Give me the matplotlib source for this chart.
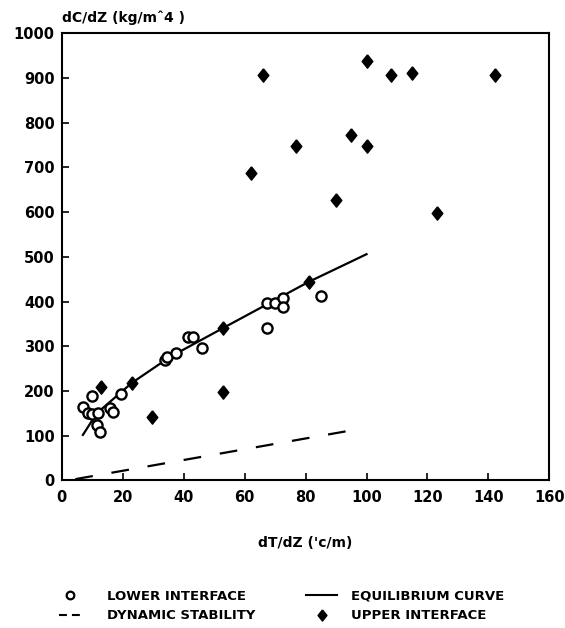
import matplotlib
matplotlib.use("Agg")
import matplotlib.pyplot as plt
from matplotlib.lines import Line2D

# Lower interface (open circles)
lower_x = [7, 10, 8.5, 10, 12, 11.5, 12.5, 16, 17, 19.5, 34, 34.5, 37.5,
           41.5, 43, 46, 67.5, 67.5, 70, 72.5, 72.5, 85]
lower_y = [165, 188, 152, 148, 150, 125, 109, 163, 153, 194, 270, 276, 285,
           321, 321, 296, 397, 342, 397, 408, 387, 412]

# Upper interface (filled diamonds)
upper_x = [66, 100, 108, 115, 142, 95, 77, 100, 62, 90, 123,
           13, 23, 29.5, 53, 53, 81]
upper_y = [907, 937, 907, 912, 907, 773, 748, 748, 688, 628, 599,
           209, 218, 142, 341, 197, 444]

# Equilibrium curve
eq_x = [7, 11.5, 23, 35.5, 53, 81, 100]
eq_y = [102, 150, 218, 276, 341, 444, 506]

# Dynamic stability
dyn_x = [4.5, 95]
dyn_y = [3, 112]

xticks = [0, 20, 40, 60, 80, 100, 120, 140, 160]
yticks = [0, 100, 200, 300, 400, 500, 600, 700, 800, 900, 1000]

plt.rcParams['font.family'] = ['DejaVu Sans']
plt.rcParams['font.weight'] = 'bold'

diamond = [(0, 1), (0.8, 0), (0, -1), (-0.8, 0), (0, 1)]

fig = plt.figure(figsize=(5.65, 6.28), dpi=100)
ax = fig.add_axes([0.109, 0.2349, 0.8635, 0.7121])

ax.plot(eq_x, eq_y, color='black', lw=1.6, zorder=2)
ax.plot(dyn_x, dyn_y, color='black', lw=1.6, linestyle=(0, (8, 8.5)), zorder=2)
ax.plot(lower_x, lower_y, linestyle='none', marker='o', ms=7.3, mfc='white',
        mec='black', mew=1.7, zorder=3)
ax.plot(upper_x, upper_y, linestyle='none', marker=diamond, ms=9.6,
        color='black', zorder=4)

ax.set_xlim(0, 160)
ax.set_ylim(0, 1000)
ax.set_xticks(xticks)
ax.set_yticks(yticks)
ax.tick_params(direction='in', length=5, width=1.2, labelsize=10.5, pad=5,
               top=False, right=False)
ax.tick_params(axis='x', pad=7)
for lab in ax.get_xticklabels() + ax.get_yticklabels():
    lab.set_fontweight('bold')
for s in ax.spines.values():
    s.set_linewidth(1.5)

ax.text(0, 1.0246, 'dC/dZ (kg/m\u02c64 )', transform=ax.transAxes, ha='left',
        va='baseline', fontsize=10, fontweight='bold')
ax.text(0.5, -0.1488, "dT/dZ ('c/m)", transform=ax.transAxes, ha='center',
        va='baseline', fontsize=10, fontweight='bold')

h_lower = Line2D([], [], linestyle='none', marker='o', ms=5.5, mfc='white',
                 mec='black', mew=1.6)
h_dyn = Line2D([], [], color='black', lw=1.5, linestyle=(0, (3.8, 2.4)))
h_eq = Line2D([], [], color='black', lw=1.5)
h_up = Line2D([], [], linestyle='none', marker=diamond, ms=8, color='black')

leg_font = {'size': 9.5, 'weight': 'bold'}
leg1 = fig.legend([h_lower, h_dyn], ['LOWER INTERFACE', 'DYNAMIC STABILITY'],
                  loc='center left', bbox_to_anchor=(0.1044, 0.035),
                  frameon=False, prop=leg_font, borderpad=0, borderaxespad=0,
                  handlelength=1.7, handletextpad=1.94, labelspacing=0.5)
leg2 = fig.legend([h_eq, h_up], ['EQUILIBRIUM CURVE', 'UPPER INTERFACE'],
                  loc='center left', bbox_to_anchor=(0.5416, 0.035),
                  frameon=False, prop=leg_font, borderpad=0, borderaxespad=0,
                  handlelength=2.35, handletextpad=1.06, labelspacing=0.5)

fig.savefig('out.png', dpi=100)
